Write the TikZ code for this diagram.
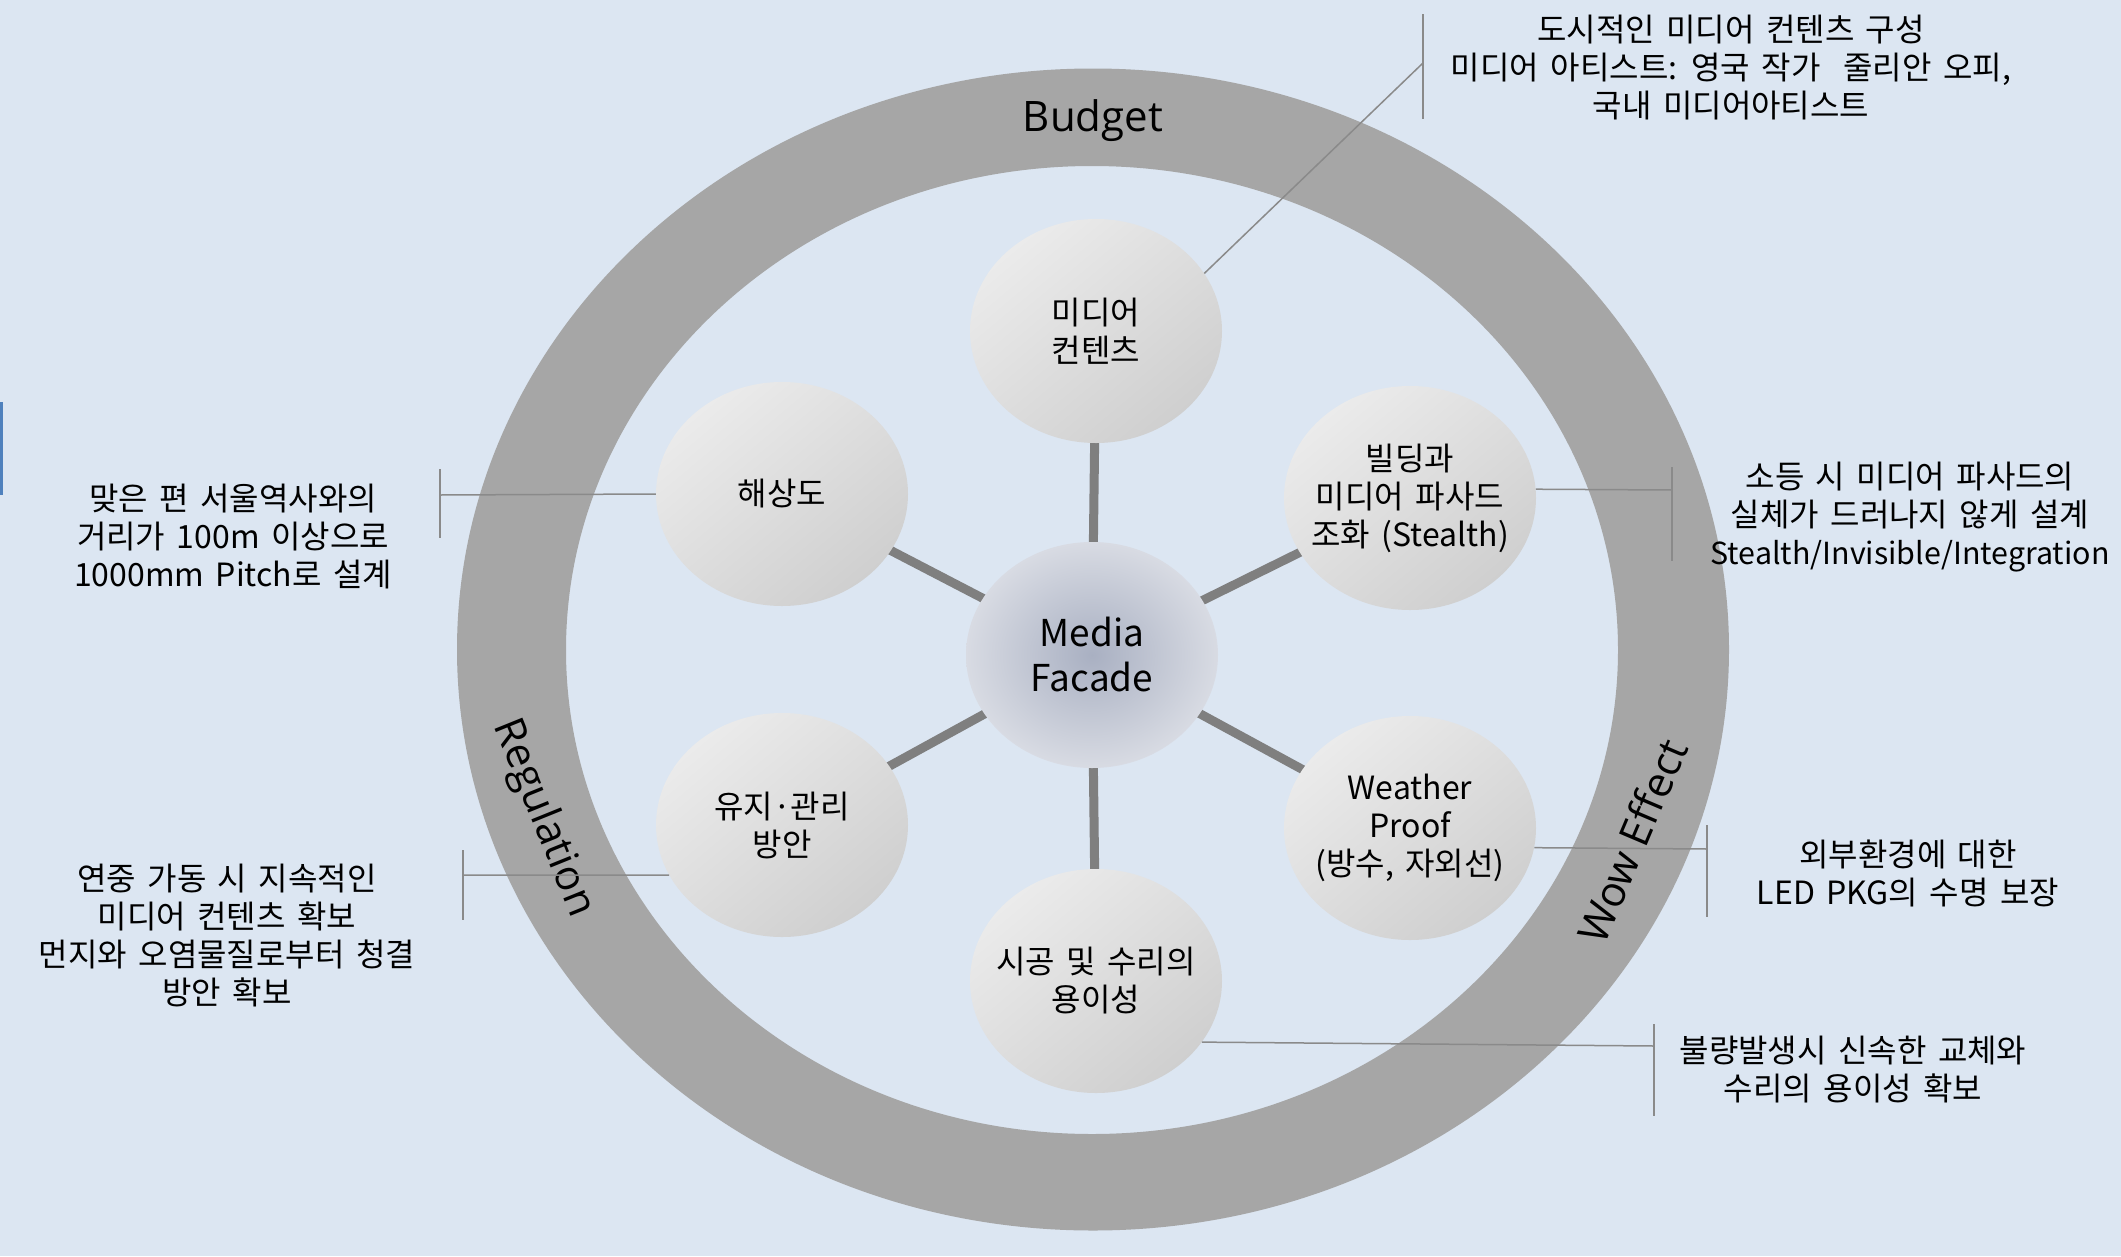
\documentclass[tikz,border=0pt]{standalone}
\usepackage{fontspec}
\setmainfont[WordSpace=1.6]{Noto Sans CJK KR}
\newfontfamily\ringfont{Open Sans}
\usetikzlibrary{shapes.geometric,backgrounds}
\definecolor{bgc}{HTML}{DCE6F2}
\definecolor{ringc}{HTML}{A6A6A6}
\definecolor{spokec}{HTML}{7F7F7F}
\definecolor{calloutc}{HTML}{8A8A8A}
\definecolor{bubA}{HTML}{EBEBEB}
\definecolor{bubB}{HTML}{CFCFCF}
\definecolor{hubA}{HTML}{A9B0C2}
\definecolor{hubB}{HTML}{D8DBE3}
\definecolor{barblue}{HTML}{4F81BD}
\begin{document}
\begin{tikzpicture}[x=1pt,y=-1pt,
  bub/.style={ellipse, minimum width=252pt, minimum height=224pt,
    inner xsep=-45pt, inner ysep=-10pt,
    top color=bubA, bottom color=bubB, shading angle=40, align=center,
    font=\fontsize{32}{38}\selectfont},
  hub/.style={ellipse, minimum width=252pt, minimum height=226pt,
    inner xsep=-30pt, inner ysep=-10pt,
    inner color=hubA, outer color=hubB, align=center,
    font=\fontsize{37}{45}\selectfont},
  spk/.style={draw=spokec, line width=9pt},
  co/.style={draw=calloutc, line width=1.5pt},
  note/.style={align=center, inner sep=0pt, font=\fontsize{32}{38}\selectfont},
  ringlbl/.style={inner sep=0pt, font=\ringfont\fontsize{42}{48}\selectfont}
]
\useasboundingbox (0,0) rectangle (2121,1256);

% nodes
\node[hub] (hub) at (1092,655) {Media\\Facade};
\node[bub] (n1) at (1096,331) {미디어\\컨텐츠};
\node[bub] (n2) at (1410,498) {빌딩과\\미디어 파사드\\조화 (Stealth)};
\node[bub] (n3) at (1410,828) {Weather\\Proof\\(방수, 자외선)};
\node[bub] (n4) at (1096,981) {시공 및 수리의\\용이성};
\node[bub] (n5) at (782,825) {유지·관리\\방안};
\node[bub] (n6) at (782,494) {해상도};

\begin{scope}[on background layer]
  \fill[bgc] (0,0) rectangle (2121,1256);
  \fill[barblue] (0,402) rectangle (3,495);
  \fill[ringc, even odd rule] (1093,649.5) ellipse [x radius=636pt, y radius=581pt]
                              (1092,650) ellipse [x radius=526pt, y radius=484pt];
  \foreach \n in {n1,n2,n3,n4,n5,n6} \draw[spk] (hub.center) -- (\n.center);
\end{scope}

% ring labels
\node[ringlbl] (lb) at (1093,121) {Budget};
\node[ringlbl, rotate=-68] (lr) at (543,818) {Regulation};
\node[ringlbl, rotate=67] (lw) at (1632,841) {Wow Effect};

% callout bars and connectors
\coordinate (c1) at (1423,63);
\draw[co] (1423,14) -- (1423,119);
\draw[co] (n1.28) -- (c1);

\coordinate (c6) at (440,495);
\draw[co] (440,469) -- (440,538);
\draw[co] (n6.west) -- (c6);

\coordinate (c2) at (1672,490);
\draw[co] (1672,467) -- (1672,561);
\draw[co] (n2.4) -- (c2);

\coordinate (c3) at (1707,849);
\draw[co] (1707,825) -- (1707,917);
\draw[co] (n3.-9) -- (c3);

\coordinate (c4) at (1654,1046);
\draw[co] (1654,1024) -- (1654,1116);
\draw[co] (n4.-30) -- (c4);

\coordinate (c5) at (463,875);
\draw[co] (463,850) -- (463,920);
\draw[co] (n5.204) -- (c5);

% notes
\node[note] (t1) at (1731,68) {도시적인 미디어 컨텐츠 구성\\미디어 아티스트: 영국 작가~ 줄리안 오피,\\국내 미디어아티스트};
\node[note] (t6) at (233,537) {맞은 편 서울역사와의\\거리가 100m 이상으로\\1000mm Pitch로 설계};
\node[note] (t2) at (1910,517) {소등 시 미디어 파사드의\\실체가 드러나지 않게 설계\\{\fontsize{30.4}{38}\selectfont Stealth/Invisible/Integration}};
\node[note] (t5) at (227,936) {연중 가동 시 지속적인\\미디어 컨텐츠 확보\\먼지와 오염물질로부터 청결\\방안 확보};
\node[note] (t3) at (1908,873) {외부환경에 대한\\LED PKG의 수명 보장};
\node[note] (t4) at (1853,1070) {불량발생시 신속한 교체와\\수리의 용이성 확보};
\end{tikzpicture}
\end{document}
